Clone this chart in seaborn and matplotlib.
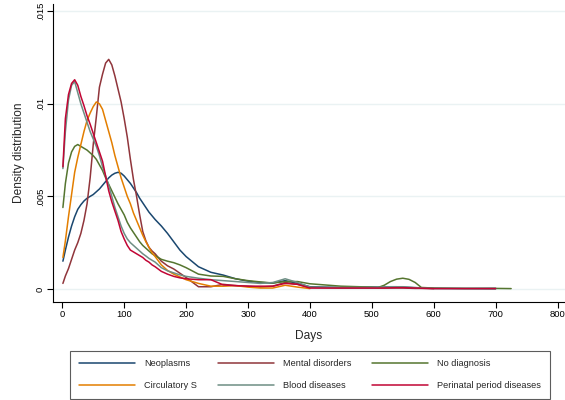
import numpy as np
import pandas as pd
import matplotlib
matplotlib.use("Agg")
import matplotlib.pyplot as plt
import seaborn as sns

nan = np.nan
days = [1, 5, 10, 15, 20, 25, 30, 35, 40, 45, 50, 55, 60, 65, 70, 75, 80, 85, 90, 95,
        100, 105, 110, 115, 120, 125, 130, 135, 140, 145, 150,
        160, 170, 180, 190, 200,
        220, 240, 260, 280, 300, 320, 340, 360, 380, 400,
        450, 500, 510, 520, 530, 540, 550, 560, 570, 580, 600, 650, 700, 725]

# densities in units of 0.001
neoplasms = [1.5, 2.1, 2.8, 3.4, 3.9, 4.3, 4.55, 4.75, 4.9, 5.0, 5.1, 5.25, 5.4, 5.6, 5.8, 6.0, 6.15, 6.25, 6.3, 6.25,
             6.1, 5.9, 5.7, 5.45, 5.2, 4.9, 4.65, 4.4, 4.15, 3.95, 3.75,
             3.4, 3.0, 2.55, 2.1, 1.75,
             1.2, 0.9, 0.75, 0.55, 0.42, 0.35, 0.32, 0.45, 0.3, 0.12,
             0.08, 0.1, 0.1, 0.1, 0.12, 0.12, 0.1, 0.08, 0.06, 0.05, 0.03, 0.02, 0.01, nan]
mental = [0.3, 0.7, 1.1, 1.6, 2.1, 2.5, 3.0, 3.7, 4.6, 6.0, 7.8, 9.3, 10.9, 11.6, 12.2, 12.4, 12.1, 11.5, 10.8, 10.1,
          9.2, 8.2, 7.0, 5.9, 5.0, 4.0, 3.1, 2.6, 2.25, 2.05, 1.9,
          1.5, 1.25, 1.08, 0.85, 0.62,
          0.12, 0.12, 0.25, 0.18, 0.15, 0.1, 0.15, 0.35, 0.25, 0.08,
          0.05, 0.05, 0.05, 0.05, 0.05, 0.05, 0.05, 0.04, 0.03, 0.03, 0.02, nan, nan, nan]
no_diag = [4.4, 5.7, 6.8, 7.4, 7.7, 7.8, 7.7, 7.6, 7.5, 7.35, 7.2, 7.0, 6.7, 6.4, 6.0, 5.65, 5.3, 4.95, 4.6, 4.3,
           4.0, 3.6, 3.3, 3.05, 2.8, 2.55, 2.35, 2.2, 2.05, 1.9, 1.8,
           1.6, 1.5, 1.42, 1.3, 1.15,
           0.8, 0.7, 0.68, 0.55, 0.45, 0.38, 0.32, 0.4, 0.4, 0.28,
           0.15, 0.1, 0.08, 0.2, 0.4, 0.53, 0.58, 0.52, 0.35, 0.08, 0.05, 0.03, 0.03, 0.02]
circulatory = [1.7, 2.6, 3.9, 5.1, 6.3, 7.1, 7.8, 8.5, 9.1, 9.5, 9.85, 10.1, 10.0, 9.7, 9.1, 8.5, 7.9, 7.2, 6.6, 6.0,
               5.5, 5.0, 4.6, 4.1, 3.7, 3.3, 2.9, 2.55, 2.25, 1.95, 1.75,
               1.3, 1.0, 0.8, 0.65, 0.5,
               0.3, 0.15, 0.15, 0.18, 0.1, 0.05, 0.05, 0.2, 0.1, 0.02,
               nan, nan, nan, nan, nan, nan, nan, nan, nan, nan, nan, nan, nan, nan]
blood = [6.5, 8.5, 10.2, 11.0, 11.2, 10.6, 10.0, 9.5, 9.0, 8.5, 8.1, 7.7, 7.2, 6.6, 6.1, 5.6, 5.0, 4.4, 3.9, 3.4,
         3.0, 2.7, 2.5, 2.35, 2.2, 2.05, 1.9, 1.78, 1.65, 1.55, 1.45,
         1.15, 0.98, 0.87, 0.76, 0.68,
         0.58, 0.5, 0.45, 0.4, 0.35, 0.3, 0.35, 0.55, 0.35, 0.1,
         0.08, 0.08, 0.08, 0.1, 0.12, 0.12, 0.12, 0.1, 0.08, 0.05, 0.03, 0.03, 0.05, nan]
perinatal = [6.6, 9.2, 10.5, 11.1, 11.3, 11.0, 10.4, 9.9, 9.35, 8.9, 8.4, 7.9, 7.4, 6.9, 6.1, 5.3, 4.7, 4.2, 3.7, 3.1,
             2.7, 2.35, 2.1, 2.0, 1.9, 1.8, 1.7, 1.55, 1.45, 1.3, 1.2,
             0.95, 0.8, 0.68, 0.6, 0.55,
             0.5, 0.5, 0.22, 0.18, 0.15, 0.15, 0.15, 0.3, 0.25, 0.05,
             0.05, 0.05, 0.05, 0.05, 0.06, 0.07, 0.07, 0.06, 0.05, 0.04, 0.02, 0.02, 0.02, nan]

series_names = ["Neoplasms", "Mental disorders", "No diagnosis",
                "Circulatory S", "Blood diseases", "Perinatal period diseases"]
series_values = [neoplasms, mental, no_diag, circulatory, blood, perinatal]
colors = ["#1a476f", "#90353b", "#55752f", "#e37e00", "#6e8e84", "#c10534"]

x_ticks = [0, 100, 200, 300, 400, 500, 600, 700, 800]
y_ticks = [0, 0.005, 0.01, 0.015]
y_tick_labels = ["0", ".005", ".01", ".015"]

rows = []
for name, vals in zip(series_names, series_values):
    for d, v in zip(days, vals):
        rows.append({"Days": d, "Density": v * 0.001, "Group": name})
df = pd.DataFrame(rows).dropna()

sns.set_theme(style="white")
plt.rcParams["font.family"] = ["Liberation Sans", "DejaVu Sans"]

fig = plt.figure(figsize=(5.65, 4.0), dpi=100)
ax = fig.add_axes([53 / 565, 1 - 302 / 400, (565 - 53) / 565, (302 - 4) / 400])

for yt in y_ticks:
    ax.axhline(yt, color="#eaf2f3", lw=1.0, zorder=0)

sns.lineplot(data=df, x="Days", y="Density", hue="Group", hue_order=series_names,
             palette=dict(zip(series_names, colors)), linewidth=1.1, ax=ax,
             estimator=None, sort=True)

ax.set_xlim(-15, 812)
ax.set_ylim(-0.000704, 0.01539)
ax.set_xticks(x_ticks)
ax.set_xticklabels([str(t) for t in x_ticks], fontsize=6.8)
ax.set_yticks(y_ticks)
ax.set_yticklabels(y_tick_labels, fontsize=6.8, rotation=90, va="center")
for s in ["top", "right"]:
    ax.spines[s].set_visible(False)
for s in ["left", "bottom"]:
    ax.spines[s].set_color("#000000")
    ax.spines[s].set_linewidth(0.8)
ax.tick_params(axis="both", which="major", length=4, width=0.8, color="#000000",
               direction="out", bottom=True, left=True, pad=2, colors="#000000")
ax.set_xlabel("Days", fontsize=8.6, labelpad=8)
ax.set_ylabel("Density distribution", fontsize=8.6, labelpad=8)

handles, labels = ax.get_legend_handles_labels()
lg0 = ax.get_legend()
if lg0 is not None:
    lg0.remove()
order = [0, 3, 1, 4, 2, 5]
leg = fig.legend([handles[i] for i in order], [labels[i] for i in order],
                 loc="upper center", bbox_to_anchor=(310 / 565, 1 - 350.5 / 400),
                 borderaxespad=0.0,
                 ncol=3, fontsize=6.6, handlelength=6.1, handletextpad=1.0,
                 columnspacing=2.25, labelspacing=1.43, borderpad=0.95,
                 frameon=True, fancybox=False)
leg.get_frame().set_edgecolor("#333333")
leg.get_frame().set_linewidth(0.8)

fig.savefig("out.png", dpi=100, facecolor="white")
